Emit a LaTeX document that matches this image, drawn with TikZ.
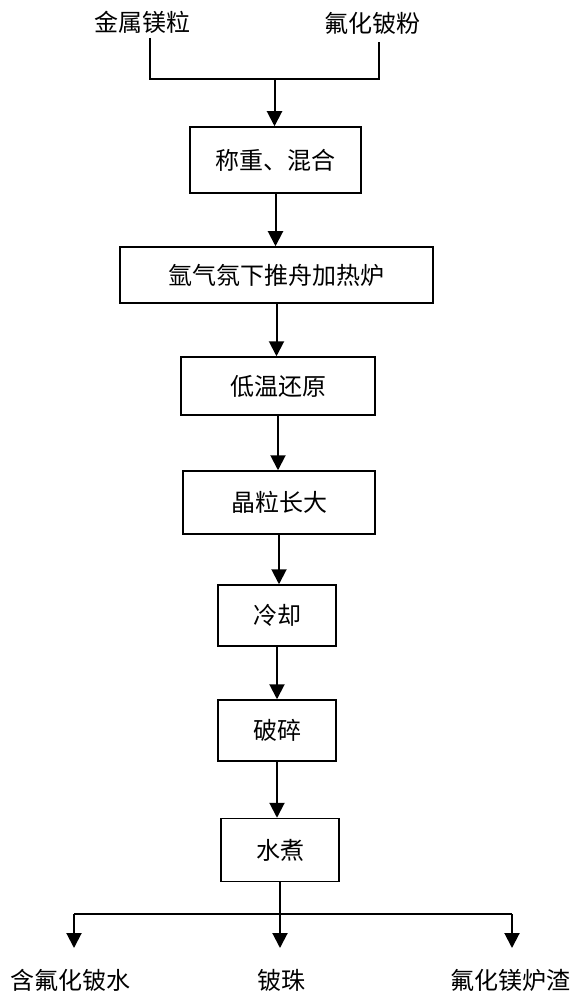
\documentclass[tikz,border=0pt]{standalone}
\usepackage{fontspec}
\newfontfamily\cjk{Noto Sans CJK SC}
\usetikzlibrary{arrows.meta}
\begin{document}
\begin{tikzpicture}[x=1pt,y=-1pt,
  txt/.style={font=\cjk\fontsize{24}{28}\selectfont, inner sep=0pt},
  proc/.style={txt, draw, line width=1.5pt, minimum width=#1},
  arr/.style={line width=2pt, -{Triangle[width=15pt,length=15pt]}},
  ln/.style={line width=1.3pt}]
\useasboundingbox (0,0) rectangle (577,1000);
% inputs
\node[txt] (m1) at (142,22) {金属镁粒};
\node[txt] (m2) at (372,23) {氟化铍粉};
\coordinate (a1) at (150,38);
\coordinate (a2) at (379,42);
\coordinate (c1) at (150,79);
\coordinate (c2) at (379,79);
\coordinate (j) at (274.5,79);
% boxes
\node[proc=171pt, minimum height=66pt] (b1) at (275.5,160) {称重、混合};
\node[proc=313pt, minimum height=56pt] (b2) at (276.5,275) {氩气氛下推舟加热炉};
\node[proc=194pt, minimum height=58pt] (b3) at (278,386) {低温还原};
\node[proc=192pt, minimum height=63pt] (b4) at (279,502.5) {晶粒长大};
\node[proc=118pt, minimum height=61pt] (b5) at (277,615.5) {冷却};
\node[proc=118pt, minimum height=61pt] (b6) at (277,730.5) {破碎};
\node[proc=118pt, minimum height=63pt] (b7) at (280,850) {水煮};
% outputs
\node[txt] (o1) at (70,980) {含氟化铍水};
\node[txt] (o2) at (281,980) {铍珠};
\node[txt] (o3) at (510,980) {氟化镁炉渣};
\coordinate (s) at (280,914);
\coordinate (l) at (74,914);
\coordinate (r) at (512,914);
\coordinate (t1) at (74,948);
\coordinate (t2) at (280,948);
\coordinate (t3) at (512,948);
% connectors
\draw[ln] (a1) -- (c1) -- (c2) -- (a2);
\draw[arr] (j) -- (j |- b1.north);
\draw[arr] (b1.south) -- (b1.south |- b2.north);
\draw[arr] (b2.south) -- (b2.south |- b3.north);
\draw[arr] (b3.south) -- (b3.south |- b4.north);
\draw[arr] (b4.south) -- (b4.south |- b5.north);
\draw[arr] (b5.south) -- (b5.south |- b6.north);
\draw[arr] (b6.south) -- (b6.south |- b7.north);
\draw[line width=2pt] (b7.south) -- (s);
\draw[ln, line width=1.6pt] (l) -- (r);
\draw[arr] (l) -- (t1);
\draw[arr] (s) -- (t2);
\draw[arr] (r) -- (t3);
\end{tikzpicture}
\end{document}
